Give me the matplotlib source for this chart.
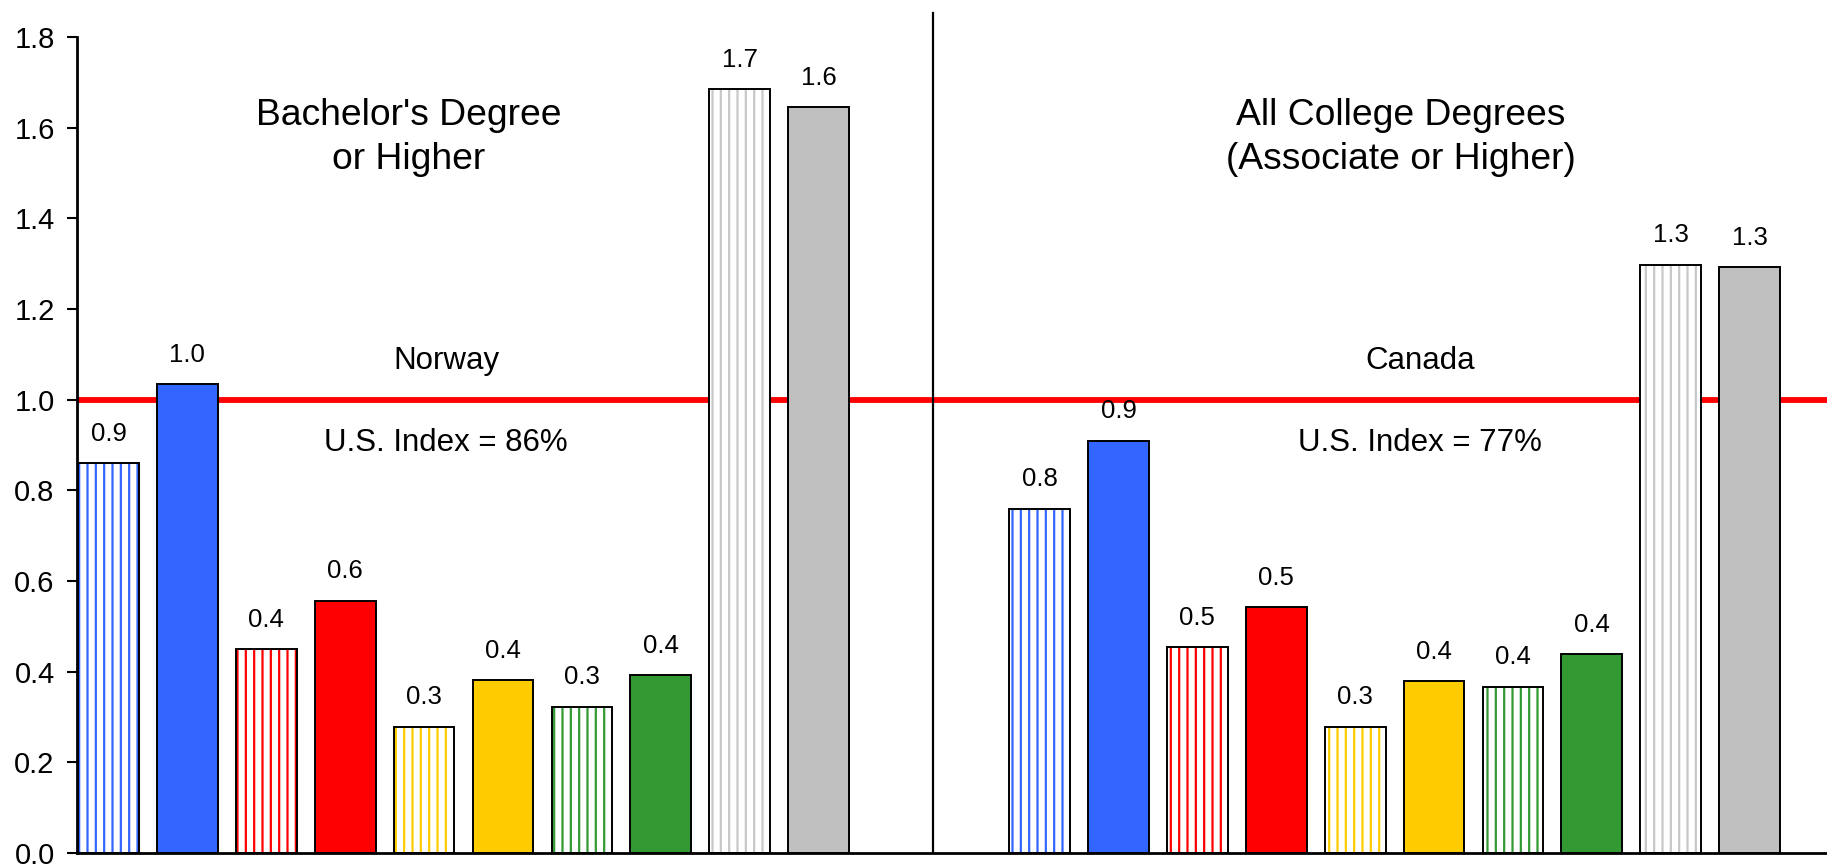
import numpy as np
import matplotlib
matplotlib.use("Agg")
import matplotlib.pyplot as plt

plt.rcParams['font.family'] = ['Liberation Sans', 'DejaVu Sans']
plt.rcParams['hatch.linewidth'] = 1.6

# Relative ratios, two panels of ten bars each
bachelor_values = [0.860, 1.034, 0.449, 0.557, 0.279, 0.381, 0.323, 0.393, 1.685, 1.646]
college_values = [0.760, 0.910, 0.455, 0.543, 0.279, 0.380, 0.367, 0.438, 1.298, 1.293]

bar_colors = ['#3366FF', '#3366FF', '#FF0000', '#FF0000', '#FFCC00', '#FFCC00',
              '#339933', '#339933', '#C8C8C8', '#C0C0C0']
bar_hatched = [True, False, True, False, True, False, True, False, True, False]

panel_titles = ["Bachelor's Degree\nor Higher", "All College Degrees\n(Associate or Higher)"]
panel_countries = ["Norway", "Canada"]
panel_index = ["U.S. Index = 86%", "U.S. Index = 77%"]

yticks = [0.0, 0.2, 0.4, 0.6, 0.8, 1.0, 1.2, 1.4, 1.6, 1.8]

fig = plt.figure(figsize=(18.27, 8.64), dpi=100)
ax = fig.add_axes([0.0421, 0.0127, 0.9579, 0.9444])

offset = 11.8
width = 0.77
x_left = np.arange(len(bachelor_values))
x_right = np.arange(len(college_values)) + offset

# reference line at 1.0
ax.axhline(1.0, color='#FF0000', linewidth=4.2, zorder=1)

for xs, vals in ((x_left, bachelor_values), (x_right, college_values)):
    for x, v, c, h in zip(xs, vals, bar_colors, bar_hatched):
        if h:
            ax.bar(x, v, width=width, color='white', edgecolor=c, hatch='||',
                   linewidth=0, zorder=2)
            ax.bar(x, v, width=width, fill=False, edgecolor='black',
                   linewidth=1.4, zorder=3)
        else:
            ax.bar(x, v, width=width, color=c, edgecolor='black',
                   linewidth=1.4, zorder=3)
        ax.annotate(f"{v:.1f}", (x, v), xytext=(0, 21), textcoords='offset points',
                    ha='center', va='center', fontsize=18.5, zorder=4)

# divider between the two panels
ax.plot([10.45, 10.45], [0, 1.852], color='black', linewidth=1.6,
        clip_on=False, zorder=5)

title_x = [3.80, 16.38]
note_x = [4.28, 16.62]
for i in range(2):
    ax.text(title_x[i], 1.578, panel_titles[i], ha='center', va='center',
            fontsize=26.8, linespacing=1.33)
    ax.text(note_x[i], 1.085, panel_countries[i], ha='center', va='center',
            fontsize=22.5)
    ax.text(note_x[i], 0.904, panel_index[i], ha='center', va='center',
            fontsize=22.5)

ax.set_xlim(-0.40, 21.78)
ax.set_ylim(0, 1.8)
ax.set_yticks(yticks)
ax.set_yticklabels([f"{t:.1f}" for t in yticks])
ax.set_xticks([])
ax.tick_params(axis='y', length=7, width=1.5, pad=9, labelsize=21)

for side in ('top', 'right'):
    ax.spines[side].set_visible(False)
ax.spines['left'].set_linewidth(2)
ax.spines['bottom'].set_linewidth(2)

fig.savefig('out.png', dpi=100)
